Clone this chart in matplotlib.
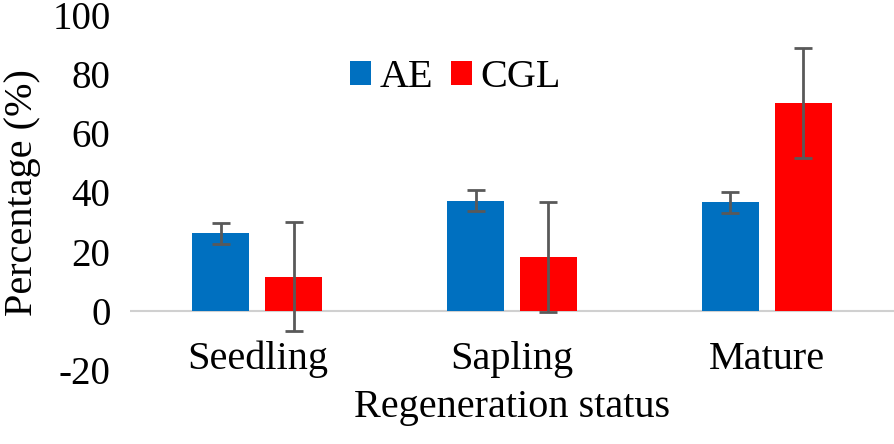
import numpy as np
import matplotlib
matplotlib.use("Agg")
import matplotlib.pyplot as plt

# data
categories = ["Seedling", "Sapling", "Mature"]
series = ["AE", "CGL"]
ae_vals = [26.2, 37.2, 36.7]
ae_err = [3.6, 3.6, 3.5]
cgl_vals = [11.6, 18.2, 70.2]
cgl_err = [18.5, 18.6, 18.5]
yticks = [-20, 0, 20, 40, 60, 80, 100]

blue = "#0070C0"
red = "#FF0000"
errc = "#595959"

plt.rcParams['font.family'] = ['Liberation Serif', 'DejaVu Serif']

fig = plt.figure(figsize=(8.94, 4.44), dpi=100)
ax = fig.add_axes([130/894, 1-370/444, 1-130/894, 355/444])

x = np.arange(len(categories))
w = 0.224
off = 0.143
ekw = dict(ecolor=errc, elinewidth=2, capsize=6.5, capthick=2)
ax.bar(x - off, ae_vals, w, color=blue, label=series[0], yerr=ae_err, error_kw=ekw)
ax.bar(x + off, cgl_vals, w, color=red, label=series[1], yerr=cgl_err, error_kw=ekw)

ax.axhline(0, color="#d0d0d0", lw=1.5, zorder=0)
ax.set_xlim(-0.5, 2.5)
ax.set_ylim(-20, 100)
ax.set_yticks(yticks)
ax.set_yticklabels([str(t) for t in yticks])
ax.set_xticks(x)
ax.set_xticklabels(categories)
ax.tick_params(axis='y', length=0, labelsize=28, pad=14)
ax.tick_params(axis='x', length=0, labelsize=29, pad=-21)
for s in ax.spines.values():
    s.set_visible(False)

ax.set_ylabel("Percentage (%)", fontsize=29, labelpad=8)
ax.set_xlabel("Regeneration status", fontsize=29, labelpad=8)

ax.legend(loc="center", bbox_to_anchor=(0.426, 0.823), ncol=2, frameon=False,
          fontsize=29, handlelength=0.52, handleheight=0.52, handletextpad=0.2,
          columnspacing=0.45)

fig.savefig("out.png", dpi=100)
